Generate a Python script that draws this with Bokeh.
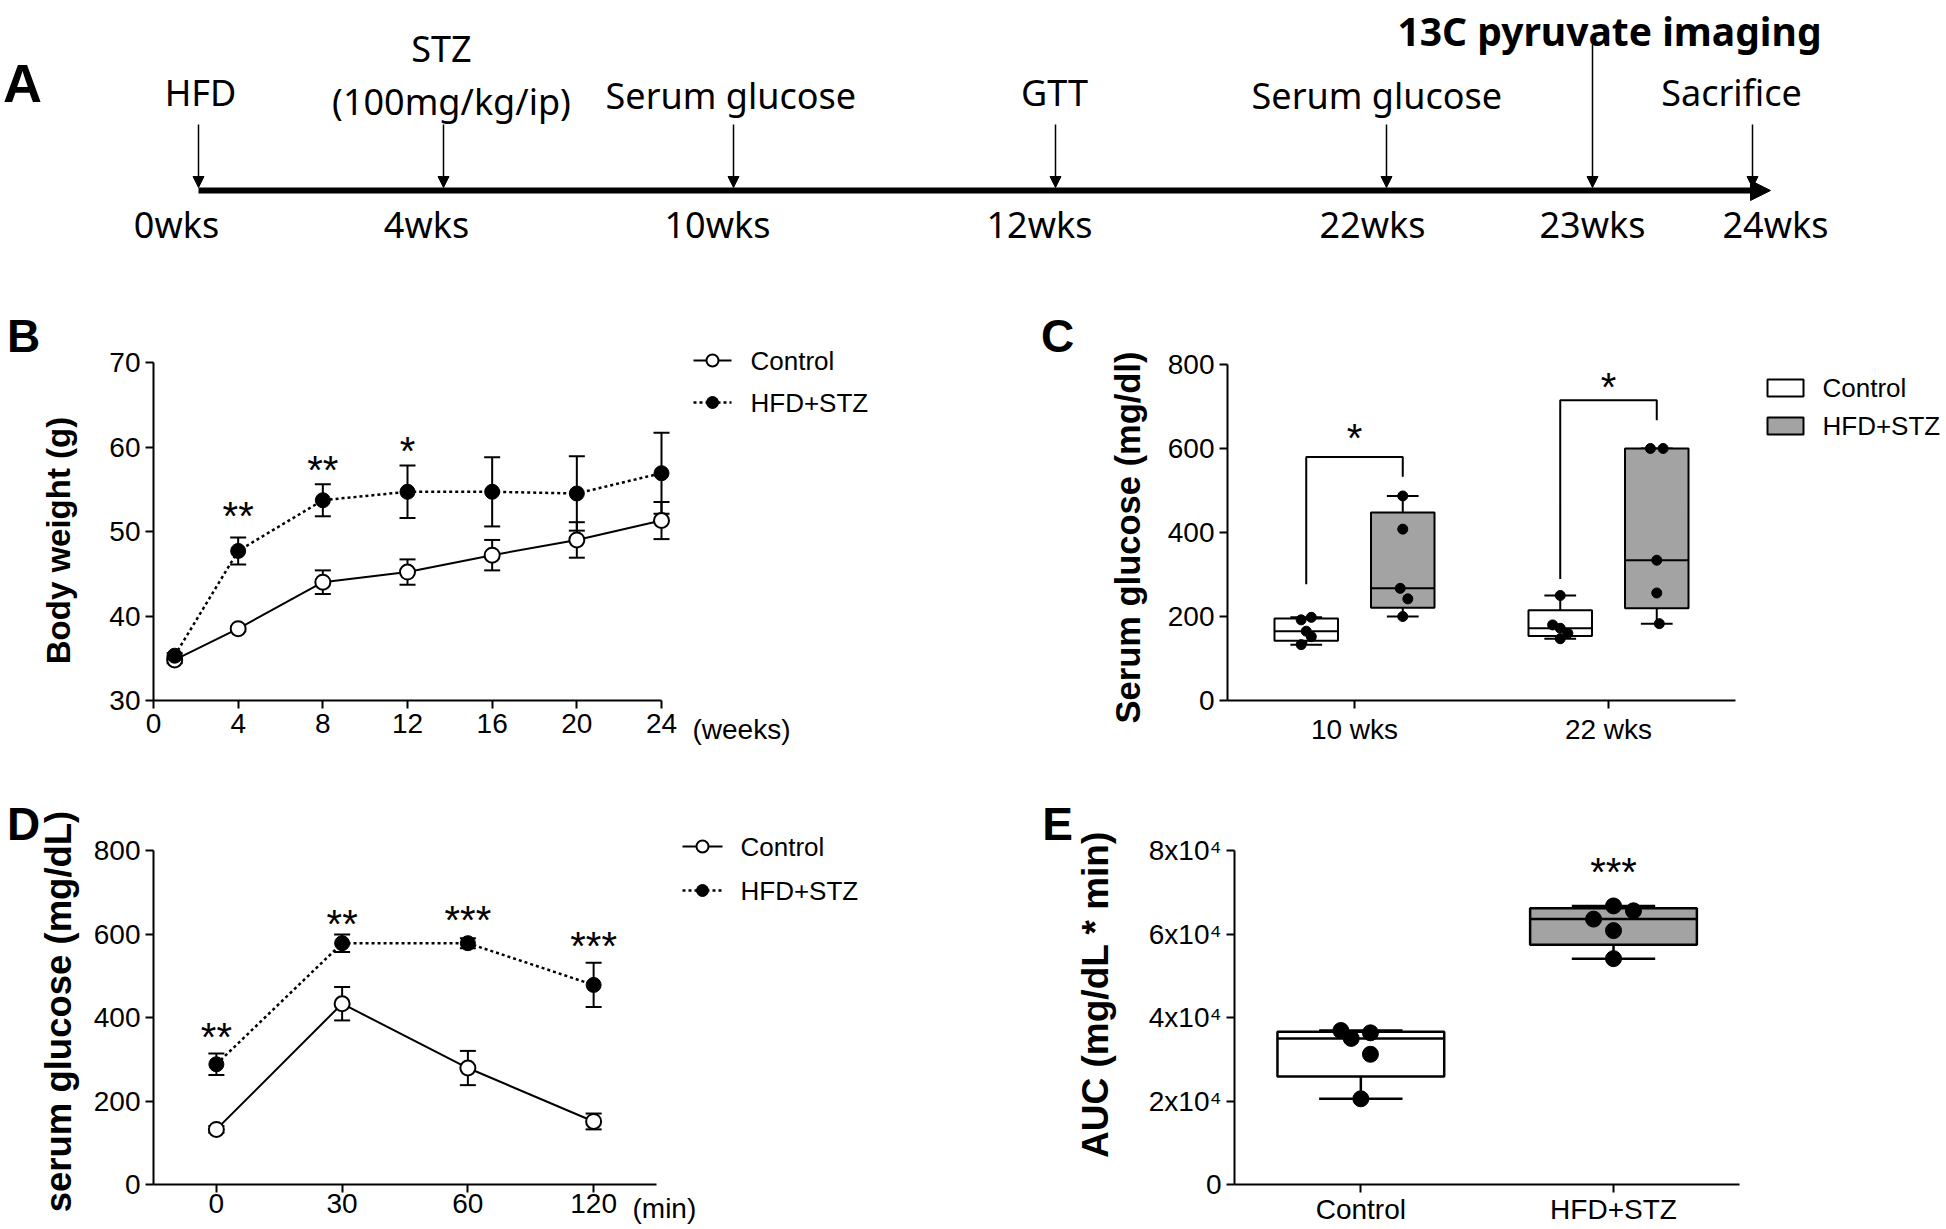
import math
import numpy as np
from bokeh.plotting import figure
from bokeh.layouts import column, row
from bokeh.models import (Range1d, Label, Arrow, NormalHead, Whisker, TeeHead,
                          ColumnDataSource, FixedTicker)
from bokeh.core.properties import value
from bokeh.embed import file_html
from bokeh.resources import INLINE

# ---------------- data ----------------
# Panel A: timeline
event_weeks = ["0wks", "4wks", "10wks", "12wks", "22wks", "23wks", "24wks"]
event_names = ["HFD", "STZ", "Serum  glucose", "GTT", "Serum  glucose",
               "13C pyruvate imaging", "Sacrifice"]
stz_dose = "(100mg/kg/ip)"

# Panel B: body weight
bw_weeks = [1, 4, 8, 12, 16, 20, 24]
bw_control = [34.8, 38.5, 44.0, 45.2, 47.2, 49.0, 51.3]
bw_control_sem = [0.4, 0.3, 1.4, 1.5, 1.8, 2.1, 2.2]
bw_hfd = [35.3, 47.7, 53.7, 54.7, 54.7, 54.5, 56.9]
bw_hfd_sem = [0.3, 1.6, 1.9, 3.1, 4.1, 4.4, 4.8]
bw_star_weeks = [4, 8, 12]
bw_star_text = ["**", "**", "*"]
bw_star_y = [52.3, 57.8, 60.0]

# Panel C: serum glucose box plots
glu_times = ["10 wks", "22 wks"]
glu_control = [[198, 192, 165, 152, 133], [250, 180, 172, 160, 147]]
glu_hfd = [[487, 408, 267, 242, 200], [600, 600, 334, 256, 183]]
glu_bracket_foot_left = [277, 289]
glu_bracket_top = [580, 715]
glu_bracket_foot_right = [533, 667]
glu_star_y = [634, 756]

# Panel D: GTT
gtt_times = ["0", "30", "60", "120"]
gtt_control = [132, 433, 279, 151]
gtt_control_sem = [8, 40, 41, 19]
gtt_hfd = [288, 578, 578, 478]
gtt_hfd_sem = [26, 21, 12, 53]
gtt_star_text = ["**", "**", "***", "***"]
gtt_star_y = [364, 634, 643, 582]

# Panel E: AUC
auc_groups = ["Control", "HFD+STZ"]
auc_control = [36880, 34990, 36330, 31190, 20530]
auc_hfd = [66730, 65550, 63570, 60810, 54100]
auc_star_y = 75800
y_ticks_auc = [0, 20000, 40000, 60000, 80000]
y_labels_auc = ["0", "2x10\u2074", "4x10\u2074", "6x10\u2074", "8x10\u2074"]

# ---------------- styling / layout ----------------
FONT = "Liberation Sans"
TXT = "Noto Sans"
GRAY = "#a3a3a3"
TICK_PX = "28px"
LEG_PX = "26px"
STAR_PX = 40


def mapper(px0, v0, px1, v1):
    s = (px1 - px0) / (v1 - v0)
    return lambda px: v0 + (px - px0) / s


def panel(origin, size, xmap, ymap, x_axis_at, y_axis_at, xstand=5):
    ox, oy = origin
    w, h = size
    p = figure(width=w, height=h,
               x_range=Range1d(xmap(ox), xmap(ox + w)),
               y_range=Range1d(ymap(oy + h), ymap(oy)),
               min_border=0, output_backend="svg", toolbar_location=None)
    p.grid.visible = False
    p.outline_line_color = None
    p.xaxis.fixed_location = x_axis_at
    p.yaxis.fixed_location = y_axis_at
    for ax in (p.xaxis[0], p.yaxis[0]):
        ax.axis_line_width = 2
        ax.major_tick_line_width = 2
        ax.major_tick_out = 8
        ax.major_tick_in = 0
        ax.minor_tick_line_color = None
        ax.major_label_text_font = FONT
        ax.major_label_text_font_size = TICK_PX
        ax.major_label_text_color = "black"
    p.xaxis.major_label_standoff = xstand
    p.yaxis.major_label_standoff = 5
    return p


def label(p, x, y, text, size, bold=False, align="center", baseline="middle",
          angle=0.0, font=FONT):
    p.add_layout(Label(x=x, y=y, text=text, text_font=font,
                       text_font_size=f"{size}px",
                       text_font_style="bold" if bold else "normal",
                       text_align=align, text_baseline=baseline,
                       angle=angle, text_color="black"))


def stars(p, xs, ys, texts, size=STAR_PX):
    # anchor = visual centre of the asterisks
    p.text(x=xs, y=ys, text=texts, text_font=value(FONT),
           text_font_size=value(f"{size}px"), text_align="center",
           text_baseline="middle", y_offset=4, text_color="black")


def boxplot(p, xc, vals, width, fill, dot_size, jit, lw=2):
    q1, med, q3 = np.percentile(vals, [25, 50, 75], method="weibull")
    lo, hi = min(vals), max(vals)
    p.segment(x0=[xc, xc], y0=[q3, q1], x1=[xc, xc], y1=[hi, lo],
              line_color="black", line_width=lw)
    p.segment(x0=[xc - width / 4] * 2, y0=[hi, lo],
              x1=[xc + width / 4] * 2, y1=[hi, lo],
              line_color="black", line_width=lw)
    p.quad(left=[xc - width / 2], right=[xc + width / 2], bottom=[q1], top=[q3],
           fill_color=fill, line_color="black", line_width=lw)
    p.segment(x0=[xc - width / 2], y0=[med], x1=[xc + width / 2], y1=[med],
              line_color="black", line_width=lw)
    p.scatter(x=[xc + j for j in jit], y=vals, size=dot_size,
              fill_color="black", line_color="black")


def legend_text(p, xs, ys, texts):
    p.text(x=xs, y=ys, text=texts, text_font=value(FONT),
           text_font_size=value(LEG_PX), text_baseline="middle",
           text_align="left", text_color="black")


W_TOTAL = 1946
ROW1_H, ROW2_H, ROW3_H = 300, 480, 447
LEFT_W = 1000

# ---------------- Panel A ----------------
pa = figure(width=W_TOTAL, height=ROW1_H, x_range=Range1d(0, W_TOTAL),
            y_range=Range1d(ROW1_H, 0), min_border=0,
            output_backend="svg", toolbar_location=None,
            x_axis_location=None, y_axis_location=None)
pa.grid.visible = False
pa.outline_line_color = None

arrow_x = [198, 443, 733, 1055, 1386, 1592, 1752]
arrow_top = [124, 124, 124, 124, 124, 44, 124]
name_x = [200, 441, 735, 1054, 1381, 1609, 1731]
name_y = [92, 48, 95, 92, 95, 30, 92]
week_x = [176, 426, 717, 1039, 1372, 1592, 1775]
line_y = 190

pa.add_layout(Arrow(x_start=arrow_x[0], y_start=line_y, x_end=1770, y_end=line_y,
                    line_width=6, line_color="black",
                    end=NormalHead(size=20, fill_color="black", line_color="black")))
for ax_, at in zip(arrow_x, arrow_top):
    pa.add_layout(Arrow(x_start=ax_, y_start=at, x_end=ax_, y_end=line_y - 3,
                        line_width=1.5, line_color="black",
                        end=NormalHead(size=11, fill_color="black",
                                       line_color="black", line_width=1)))

normal_idx = [i for i in range(len(event_names)) if i != 5]
pa.text(x=[name_x[i] for i in normal_idx], y=[name_y[i] for i in normal_idx],
        text=[event_names[i] for i in normal_idx], text_font=value(TXT),
        text_font_size=value("36px"), text_align="center",
        text_baseline="middle", text_color="black")
pa.text(x=[name_x[5]], y=[name_y[5]], text=[event_names[5]], text_font=value(TXT),
        text_font_size=value("39px"), text_font_style="bold", text_align="center",
        text_baseline="middle", text_color="black")
pa.text(x=[451], y=[101], text=[stz_dose], text_font=value(TXT),
        text_font_size=value("36px"), text_align="center",
        text_baseline="middle", text_color="black")
pa.text(x=week_x, y=[224] * len(week_x), text=event_weeks, text_font=value(TXT),
        text_font_size=value("36px"), text_align="center",
        text_baseline="middle", text_color="black")
pa.text(x=[22], y=[82], text=["A"], text_font=value(FONT),
        text_font_size=value("54px"), text_font_style="bold", text_align="center",
        text_baseline="middle", text_color="black")

# ---------------- Panel B ----------------
bx = mapper(153, 0, 661, 24)
by = mapper(362, 70, 700, 30)
pb = panel((0, ROW1_H), (LEFT_W, ROW2_H), bx, by, 30, 0)
pb.xaxis.ticker = FixedTicker(ticks=[0, 4, 8, 12, 16, 20, 24])
pb.yaxis.ticker = FixedTicker(ticks=[30, 40, 50, 60, 70])
pb.xaxis.bounds = (0, 24)
pb.yaxis.bounds = (30, 70)

src_bc = ColumnDataSource(dict(x=bw_weeks, y=bw_control,
                               lo=[v - e for v, e in zip(bw_control, bw_control_sem)],
                               hi=[v + e for v, e in zip(bw_control, bw_control_sem)]))
src_bh = ColumnDataSource(dict(x=bw_weeks, y=bw_hfd,
                               lo=[v - e for v, e in zip(bw_hfd, bw_hfd_sem)],
                               hi=[v + e for v, e in zip(bw_hfd, bw_hfd_sem)]))
for s in (src_bc, src_bh):
    pb.add_layout(Whisker(source=s, base="x", upper="hi", lower="lo",
                          line_width=2, line_color="black",
                          upper_head=TeeHead(size=16, line_width=2, line_color="black"),
                          lower_head=TeeHead(size=16, line_width=2, line_color="black")))
pb.line("x", "y", source=src_bc, line_color="black", line_width=2)
pb.line("x", "y", source=src_bh, line_color="black", line_width=2.5, line_dash="3 3")
pb.scatter("x", "y", source=src_bc, size=15, fill_color="white",
           line_color="black", line_width=2)
pb.scatter("x", "y", source=src_bh, size=15, fill_color="black", line_color="black")
stars(pb, bw_star_weeks, bw_star_y, bw_star_text)

pb.segment(x0=[bx(693)], y0=[by(360)], x1=[bx(731)], y1=[by(360)],
           line_color="black", line_width=2)
pb.segment(x0=[bx(693)], y0=[by(402)], x1=[bx(731)], y1=[by(402)],
           line_color="black", line_width=2.5, line_dash="3 3")
pb.scatter(x=[bx(712)], y=[by(360)], size=12, fill_color="white",
           line_color="black", line_width=2)
pb.scatter(x=[bx(712)], y=[by(402)], size=12, fill_color="black", line_color="black")
legend_text(pb, [bx(750)] * 2, [by(360), by(402)], ["Control", "HFD+STZ"])

label(pb, bx(692), by(729), "(weeks)", 28, align="left")
label(pb, bx(58), by(540), "Body weight (g)", 33, bold=True, angle=math.pi / 2)
label(pb, bx(23), by(335), "B", 46, bold=True)

# ---------------- Panel C ----------------
cx = mapper(1227, 0.5, 1608, 2)
cy = mapper(364, 800, 700, 0)
pc = panel((LEFT_W, ROW1_H), (W_TOTAL - LEFT_W, ROW2_H), cx, cy, 0, 0.5)
pc.xaxis.ticker = FixedTicker(ticks=[1, 2])
pc.xaxis.major_label_overrides = {1: glu_times[0], 2: glu_times[1]}
pc.yaxis.ticker = FixedTicker(ticks=[0, 200, 400, 600, 800])
pc.xaxis.bounds = (0.5, 2.5)
pc.yaxis.bounds = (0, 800)

off = 0.19
bw = 0.25
jit_c_ctrl = [[0.02, -0.02, 0.0, 0.02, -0.02], [0.0, -0.03, 0.0, 0.03, 0.0]]
jit_c_hfd = [[0.0, 0.0, -0.01, 0.02, 0.0], [-0.025, 0.025, 0.0, 0.0, 0.01]]
for i in range(2):
    xc = i + 1
    boxplot(pc, xc - off, glu_control[i], bw, "white", 10, jit_c_ctrl[i])
    boxplot(pc, xc + off, glu_hfd[i], bw, GRAY, 10, jit_c_hfd[i])
    pc.line(x=[xc - off, xc - off, xc + off, xc + off],
            y=[glu_bracket_foot_left[i], glu_bracket_top[i], glu_bracket_top[i],
               glu_bracket_foot_right[i]], line_color="black", line_width=2)
stars(pc, [1, 2], glu_star_y, ["*", "*"])

pc.quad(left=[cx(1767)] * 2, right=[cx(1803)] * 2,
        bottom=[cy(396), cy(434)], top=[cy(379), cy(417)],
        fill_color=["white", GRAY], line_color="black", line_width=2)
legend_text(pc, [cx(1822)] * 2, [cy(387), cy(425)], ["Control", "HFD+STZ"])
label(pc, cx(1127), cy(537), "Serum glucose (mg/dl)", 34.5, bold=True, angle=math.pi / 2)
label(pc, cx(1057), cy(335), "C", 46, bold=True)

# ---------------- Panel D ----------------
dx = mapper(153, -0.5, 656, 3.5)
dy = mapper(850, 800, 1184, 0)
pd_ = panel((0, ROW1_H + ROW2_H), (LEFT_W, ROW3_H), dx, dy, 0, -0.5, xstand=1)
pd_.xaxis.ticker = FixedTicker(ticks=[0, 1, 2, 3])
pd_.xaxis.major_label_overrides = {i: t for i, t in enumerate(gtt_times)}
pd_.yaxis.ticker = FixedTicker(ticks=[0, 200, 400, 600, 800])
pd_.xaxis.bounds = (-0.5, 3.5)
pd_.yaxis.bounds = (0, 800)

gx = list(range(len(gtt_times)))
src_dc = ColumnDataSource(dict(x=gx, y=gtt_control,
                               lo=[v - e for v, e in zip(gtt_control, gtt_control_sem)],
                               hi=[v + e for v, e in zip(gtt_control, gtt_control_sem)]))
src_dh = ColumnDataSource(dict(x=gx, y=gtt_hfd,
                               lo=[v - e for v, e in zip(gtt_hfd, gtt_hfd_sem)],
                               hi=[v + e for v, e in zip(gtt_hfd, gtt_hfd_sem)]))
for s in (src_dc, src_dh):
    pd_.add_layout(Whisker(source=s, base="x", upper="hi", lower="lo",
                           line_width=2, line_color="black",
                           upper_head=TeeHead(size=16, line_width=2, line_color="black"),
                           lower_head=TeeHead(size=16, line_width=2, line_color="black")))
pd_.line("x", "y", source=src_dc, line_color="black", line_width=2)
pd_.line("x", "y", source=src_dh, line_color="black", line_width=2.5, line_dash="3 3")
pd_.scatter("x", "y", source=src_dc, size=15, fill_color="white",
            line_color="black", line_width=2)
pd_.scatter("x", "y", source=src_dh, size=15, fill_color="black", line_color="black")
stars(pd_, gx, gtt_star_y, gtt_star_text)

pd_.segment(x0=[dx(682)], y0=[dy(846)], x1=[dx(722)], y1=[dy(846)],
            line_color="black", line_width=2)
pd_.segment(x0=[dx(682)], y0=[dy(890)], x1=[dx(722)], y1=[dy(890)],
            line_color="black", line_width=2.5, line_dash="3 3")
pd_.scatter(x=[dx(702)], y=[dy(846)], size=12, fill_color="white",
            line_color="black", line_width=2)
pd_.scatter(x=[dx(702)], y=[dy(890)], size=12, fill_color="black", line_color="black")
legend_text(pd_, [dx(740)] * 2, [dy(846), dy(890)], ["Control", "HFD+STZ"])
label(pd_, dx(632), dy(1208), "(min)", 28, align="left")
label(pd_, dx(58), dy(1011), "serum glucose (mg/dL)", 36.5, bold=True, angle=math.pi / 2)
label(pd_, dx(23), dy(823), "D", 46, bold=True)

# ---------------- Panel E ----------------
ex = mapper(1234, 0.5, 1613, 2)
ey = mapper(850, 80000, 1184, 0)
pe = panel((LEFT_W, ROW1_H + ROW2_H), (W_TOTAL - LEFT_W, ROW3_H), ex, ey, 0, 0.5, xstand=1)
pe.xaxis.ticker = FixedTicker(ticks=[1, 2])
pe.xaxis.major_label_overrides = {1: auc_groups[0], 2: auc_groups[1]}
pe.yaxis.ticker = FixedTicker(ticks=y_ticks_auc)
pe.yaxis.major_label_overrides = {t: l for t, l in zip(y_ticks_auc, y_labels_auc)}
pe.xaxis.bounds = (0.5, 2.5)
pe.yaxis.bounds = (0, 80000)

boxplot(pe, 1, auc_control, 0.66, "white", 16, [-0.079, -0.038, 0.038, 0.038, 0.0], lw=2.5)
boxplot(pe, 2, auc_hfd, 0.66, GRAY, 16, [0.0, 0.079, -0.079, 0.0, 0.0], lw=2.5)
stars(pe, [2], [auc_star_y], ["***"])
label(pe, ex(1095), ey(994), "AUC (mg/dL * min)", 37, bold=True, angle=math.pi / 2)
label(pe, ex(1057), ey(823), "E", 46, bold=True)

layout = column(pa, row(pb, pc), row(pd_, pe))
open("out.html", "w").write(file_html(layout, INLINE))
